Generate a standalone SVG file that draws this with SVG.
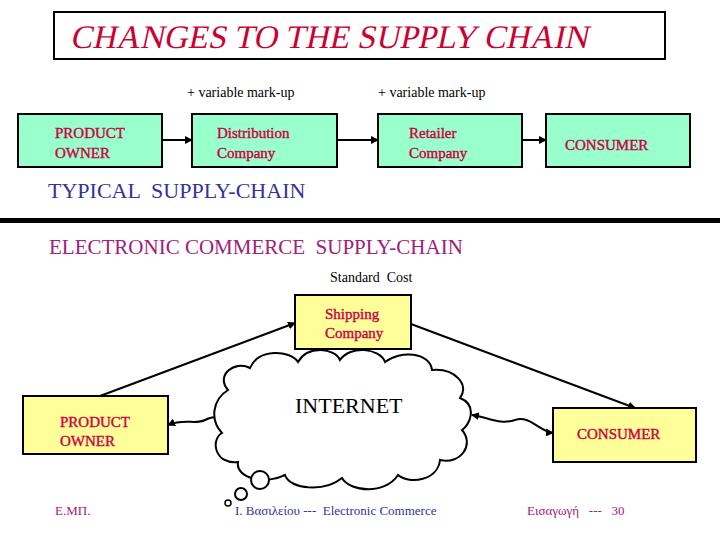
<svg xmlns="http://www.w3.org/2000/svg" width="720" height="540" viewBox="0 0 720 540">
<defs>
<marker id="ah" markerWidth="8" markerHeight="8" refX="7" refY="4" orient="auto" markerUnits="userSpaceOnUse"><path d="M0,0 L8,4 L0,8 z" fill="#000"/></marker>
<marker id="ahs" markerWidth="8" markerHeight="8" refX="1" refY="4" orient="auto" markerUnits="userSpaceOnUse"><path d="M8,0 L0,4 L8,8 z" fill="#000"/></marker>
<style>
text{font-family:"Liberation Serif","Times New Roman",serif;white-space:pre}
.g{fill:#99ffcc;stroke:#000;stroke-width:2}
.y{fill:#ffff99;stroke:#000;stroke-width:2}
.t{font-size:15px;fill:#cc0044;stroke:#cc0044;stroke-width:0.4}
.s{font-size:14px;fill:#000}
.c{stroke:#000;stroke-width:2;fill:none}
</style>
</defs>
<rect width="720" height="540" fill="#fff"/>
<g id="title"><rect x="54" y="12" width="611" height="47" fill="#fff" stroke="#000" stroke-width="2"/>
<text transform="translate(70,48) skewX(-12)" font-size="33" fill="#cc0033">CHANGES TO THE SUPPLY CHAIN</text></g>
<text class="s" x="187" y="97">+ variable mark-up</text>
<text class="s" x="378" y="97">+ variable mark-up</text>
<g id="po1"><rect class="g" x="18" y="114" width="144" height="53"/><text class="t" x="55" y="138">PRODUCT</text><text class="t" x="55" y="158">OWNER</text></g>
<g id="dist"><rect class="g" x="192" y="114" width="145" height="53"/><text class="t" x="217" y="138">Distribution</text><text class="t" x="217" y="158">Company</text></g>
<g id="ret"><rect class="g" x="378" y="114" width="144" height="53"/><text class="t" x="409" y="138">Retailer</text><text class="t" x="409" y="158">Company</text></g>
<g id="con1"><rect class="g" x="546" y="114" width="144" height="53"/><text class="t" x="565" y="150">CONSUMER</text></g>
<g id="connectors">
<line class="c" x1="162" y1="140" x2="192" y2="140" marker-end="url(#ah)"/>
<line class="c" x1="337" y1="140" x2="378" y2="140" marker-end="url(#ah)"/>
<line class="c" x1="522" y1="140" x2="546" y2="140" marker-end="url(#ah)"/>
<line class="c" x1="100" y1="396" x2="295" y2="323" marker-end="url(#ah)"/>
<line class="c" x1="411" y1="324" x2="635" y2="408" marker-end="url(#ah)"/>
<path class="c" d="M168,425 C185,418 195,425 205,420 S215,418 218,418" marker-start="url(#ahs)"/>
<path class="c" d="M472,415 C490,418 500,425 515,420 S540,432 553,433" marker-start="url(#ahs)" marker-end="url(#ah)"/>
</g>
<text x="48" y="198" font-size="22" fill="#333399">TYPICAL  SUPPLY-CHAIN</text>
<rect x="0" y="218" width="720" height="5" fill="#000"/>
<text x="49" y="254" font-size="21" fill="#a0207a">ELECTRONIC COMMERCE  SUPPLY-CHAIN</text>
<text class="s" x="330" y="282">Standard  Cost</text>
<g id="ship"><rect class="y" x="295" y="295" width="116" height="54"/><text class="t" x="325" y="319">Shipping</text><text class="t" x="325" y="338">Company</text></g>
<g id="po2"><rect class="y" x="23" y="396" width="145" height="58"/><text class="t" x="60" y="427">PRODUCT</text><text class="t" x="60" y="446">OWNER</text></g>
<g id="con2"><rect class="y" x="553" y="408" width="143" height="54"/><text class="t" x="577" y="439">CONSUMER</text></g>
<g id="internet">
<path d="M228,390 C215,375 235,360 250,368 C258,348 290,350 298,362 C308,345 335,348 340,360 C350,345 380,348 385,362 C400,350 430,352 432,370 C455,368 470,385 460,398 C478,405 470,425 462,430 C475,445 460,465 440,460 C438,480 410,485 398,475 C385,495 350,492 342,478 C325,492 290,490 285,475 C265,485 235,478 238,462 C215,465 210,440 222,433 C210,420 212,400 228,390 Z" fill="#fff" stroke="#000" stroke-width="2"/>
<text x="295" y="413" font-size="22" fill="#000">INTERNET</text>
<circle cx="260" cy="480" r="9" fill="#fff" stroke="#000" stroke-width="2"/>
<circle cx="241" cy="494" r="6" fill="#fff" stroke="#000" stroke-width="2"/>
<circle cx="228" cy="503" r="3" fill="#fff" stroke="#000" stroke-width="1.5"/>
</g>
<text x="55" y="515" font-size="13" fill="#a0207a">Ε.ΜΠ.</text>
<text x="235" y="515" font-size="13" fill="#333399">Ι. Βασιλείου ---  Electronic Commerce</text>
<text x="527" y="515" font-size="13" fill="#a0207a">Εισαγωγή   ---   30</text>
</svg>
